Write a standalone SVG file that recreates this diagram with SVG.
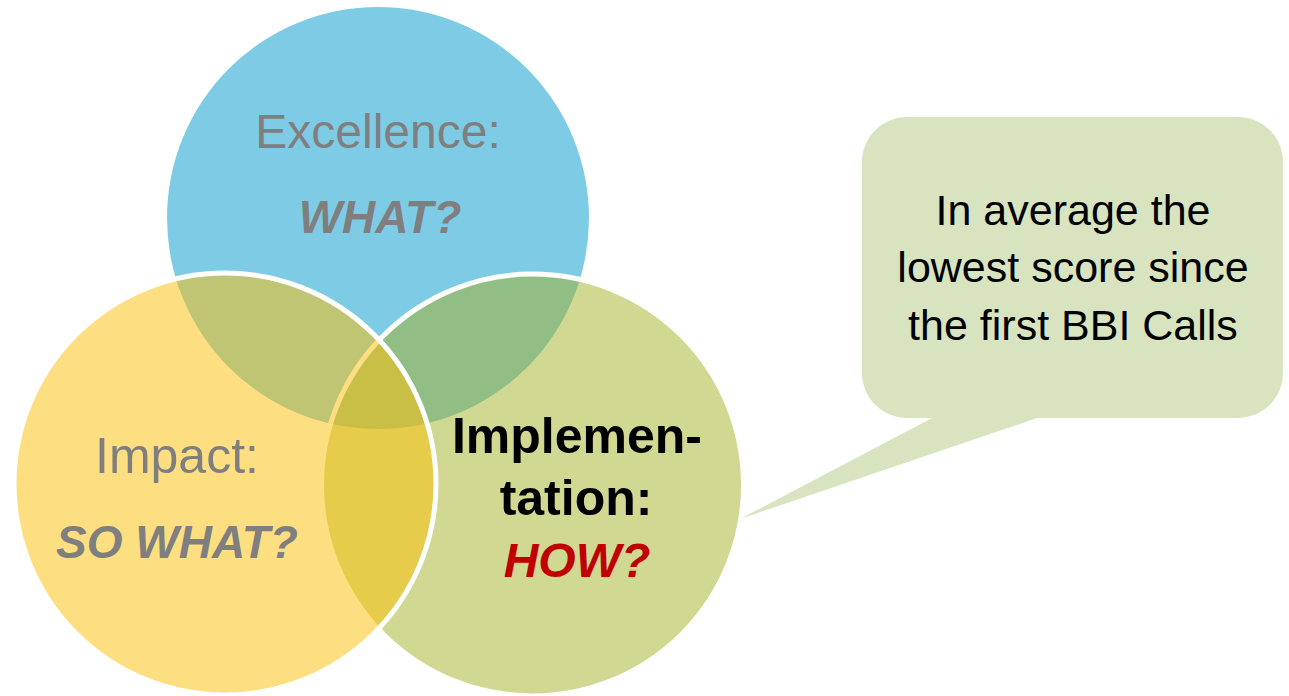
<svg xmlns="http://www.w3.org/2000/svg" width="1289" height="696" viewBox="0 0 1289 696">
  <style>
    .lbl { font-family: "Liberation Sans", Arial, sans-serif; text-anchor: middle; }
    .gray { fill: #7F7F7F; }
    .q { font-weight: bold; font-style: italic; }
    .b { font-weight: bold; fill: #000000; }
    .ring { stroke: #FFFFFF; stroke-width: 5; }
    .note { font-family: "Liberation Sans", Arial, sans-serif; font-size: 43px; fill: #000000; text-anchor: middle; }
  </style>
  <rect x="0" y="0" width="1289" height="696" fill="#FFFFFF"/>

  <g id="excellence">
    <circle cx="378" cy="218" r="211" fill="#7ECBE5"/>
    <text class="lbl gray" x="378" y="148" font-size="48">Excellence:</text>
    <text class="lbl gray q" x="380" y="233" font-size="46">WHAT?</text>
  </g>

  <g id="implementation">
    <circle class="ring" cx="532.5" cy="485" r="211" fill="#A2B224" fill-opacity="0.5"/>
    <text class="lbl b" x="577" y="453" font-size="50">Implemen-</text>
    <text class="lbl b" x="576" y="515" font-size="50">tation:</text>
    <text class="lbl q" x="577" y="577" font-size="48" fill="#C00000">HOW?</text>
  </g>

  <g id="impact">
    <circle class="ring" cx="225" cy="484" r="211" fill="#FBC00F" fill-opacity="0.53"/>
    <text class="lbl gray" x="177" y="473" font-size="50">Impact:</text>
    <text class="lbl gray q" x="177" y="558" font-size="46">SO WHAT?</text>
  </g>

  <g id="connectors"></g>

  <g id="callout">
    <path d="M 907,117 H 1238 A 45 45 0 0 1 1283,162 V 373 A 45 45 0 0 1 1238,418 H 1037 L 740,519 L 932,418 H 907 A 45 45 0 0 1 862,373 V 162 A 45 45 0 0 1 907,117 Z" fill="#D8E4BF"/>
    <text class="note" x="1073" y="225">In average the</text>
    <text class="note" x="1073" y="282">lowest score since</text>
    <text class="note" x="1073" y="340">the first BBI Calls</text>
  </g>
</svg>
